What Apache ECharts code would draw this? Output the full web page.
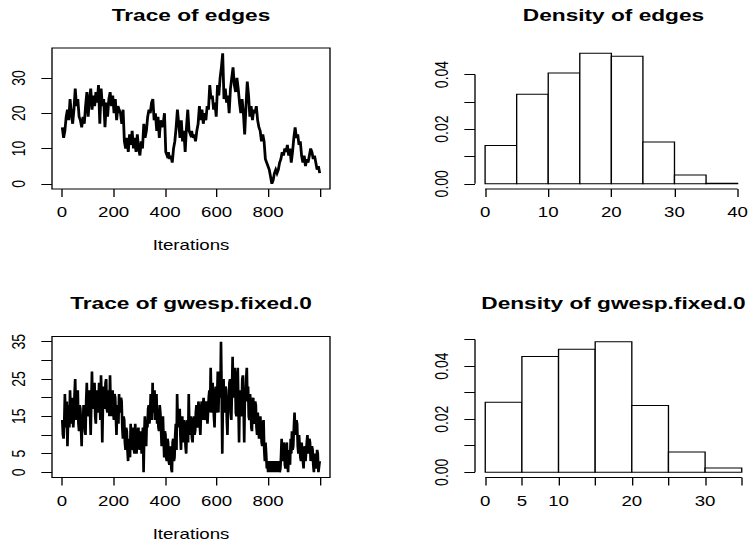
<!DOCTYPE html>
<html><head><meta charset="utf-8">
<script src="https://cdn.jsdelivr.net/npm/echarts@6/dist/echarts.min.js"></script>
<style>
html,body{margin:0;padding:0;background:#fff;overflow:hidden;}
#wrap{width:752px;height:542px;overflow:hidden;}
#chart{width:564px;height:542px;transform:scaleX(1.333333);transform-origin:0 0;}
</style></head><body><div id="wrap"><div id="chart"></div></div>
<script>
// ---- data ----
const edgesTrace = [16,13,15,19,21,18,24,20,17,21,
 27,22,24,19,18,16,19,17,22,26,
 19,24,27,21,25,22,26,23,28,17,
 27,22,24,16,23,19,24,26,22,25,
 20,24,18,22,21,20,17,21,12,10,
 13,9,14,11,15,10,13,9,14,10,
 8,12,10,17,13,15,19,21,20,23,
 24,18,20,15,19,13,18,16,17,20,
 9,8,9,7,8,6,10,12,16,21,
 17,13,18,12,15,9,16,21,15,14,
 15,13,14,12,15,17,22,18,21,17,
 20,18,22,21,28,24,25,21,23,19,
 28,25,30,33,37,24,27,23,25,20,
 27,30,33,28,26,30,27,23,20,24,
 20,14,22,29,25,19,22,18,21,20,
 22,18,16,15,12,14,12,7,6,5,
 4,2,0,1,3,4,3,4,6,7,
 9,8,10,9,11,8,10,6,9,13,
 16,13,14,11,12,8,6,8,5,7,
 6,8,10,9,7,8,6,4,5,3];
const gwespTrace = [
 14,10,9,13,21,15,12,19,7,14,18,12,22,16,13,20,20,12,15,21,
 25,17,14,20,22,13,11,18,17,12,7,15,13,18,18,11,10,19,24,16,
 15,21,22,16,10,19,27,18,17,23,24,15,13,20,22,17,16,24,20,14,
 26,19,8,18,23,17,18,24,25,17,16,22,21,15,26,18,15,21,22,16,
 14,21,20,15,10,17,18,13,21,16,16,20,19,12,9,15,14,8,6,12,
 11,6,3,9,9,4,13,7,6,11,12,6,5,13,10,5,8,11,12,7,
 6,11,9,5,5,12,0,10,15,8,7,14,12,17,18,13,15,21,20,14,
 24,16,17,22,14,19,21,13,17,12,11,18,16,12,7,14,15,9,4,11,
 10,4,3,9,8,3,2,7,6,1,0,8,9,3,4,10,13,6,21,14,
 12,16,17,10,6,13,15,8,9,14,13,7,5,11,14,8,21,12,10,15,
 13,9,8,14,15,10,11,16,18,12,13,19,17,13,10,16,19,14,14,20,
 20,14,15,19,18,13,13,20,22,16,28,19,16,24,20,15,12,21,23,16,
 20,27,16,24,27,20,35,22,5,20,25,17,16,23,22,14,10,19,18,24,
 25,16,14,22,31,21,20,28,26,16,15,24,28,18,8,20,22,15,17,25,
 26,18,8,20,19,25,28,19,23,15,14,21,19,12,11,18,20,13,14,19,
 18,12,10,16,16,9,12,15,15,8,7,13,14,6,3,8,5,1,3,0,
 0,3,3,0,0,3,3,0,0,3,3,0,3,0,0,3,3,0,1,4,
 9,4,3,8,7,2,1,6,8,3,0,6,6,2,9,5,11,6,7,12,
 16,11,10,14,13,7,5,10,10,4,3,8,8,3,1,6,7,3,3,8,
 10,6,5,9,8,3,3,7,6,2,0,5,5,1,2,6,5,0,0,3];
const iterFirst = 1, iterLast = 1000;

const edgesBreaks = [0,5,10,15,20,25,30,35,40];
const edgesDensity = [0.0140,0.0328,0.0406,0.0478,0.0467,0.0153,0.0032,0.0002];
const gwespBreaks = [0,5,10,15,20,25,30,35];
const gwespDensity = [0.0264,0.0436,0.0464,0.0492,0.0252,0.0076,0.0016];

const iterTicks = [0,200,400,600,800,1000];
const iterLabels = [0,200,400,600,800];
const edgesTraceTicks = [0,10,20,30];
const edgesTraceLabels = [0,10,20,30];
const gwespTraceTicks = [0,5,10,15,20,25,30,35];
const gwespTraceLabels = [0,5,15,25,35];
const edgesHistXTicks = [0,10,20,30,40];
const edgesHistXLabels = [0,10,20,30,40];
const edgesHistYTicks = [0,0.01,0.02,0.03,0.04];
const gwespHistXTicks = [0,5,10,15,20,25,30,35];
const gwespHistXLabels = [0,5,10,20,30];
const gwespHistYTicks = [0,0.01,0.02,0.03,0.04,0.05];
const histYLabels = [0,0.02,0.04];

const titles = ['Trace of edges','Density of edges','Trace of gwesp.fixed.0','Density of gwesp.fixed.0'];
const xName = 'Iterations';

// ---- helpers ----
const FONT = 'Liberation Sans';
function ext(lo, hi){ const d=(hi-lo)*0.04; return [lo-d, hi+d]; }
function traceData(arr){ return arr.map((v,k)=>[iterFirst + k*(iterLast-iterFirst)/(arr.length-1), v]); }
function histData(breaks, dens){ return dens.map((d,i)=>[breaks[i], breaks[i+1], d]); }
function maxOf(a){ return Math.max.apply(null,a); }
function minOf(a){ return Math.min.apply(null,a); }

const TL = 8;
function xAx(grid, range, ticks, labels, name){
  return {type:'value', gridIndex:grid, min:range[0], max:range[1],
    axisLine:{show:false, onZero:false}, splitLine:{show:false},
    axisTick:{show:true, length:TL, customValues:ticks, lineStyle:{color:'#000',width:1}},
    axisLabel:{customValues:labels, margin:16, fontSize:14, color:'#000', fontFamily:FONT},
    name:name||'', nameLocation:'middle', nameGap:49,
    nameTextStyle:{fontSize:14, color:'#000', fontFamily:FONT}};
}
function yAx(grid, range, ticks, labels, fmt){
  return {type:'value', gridIndex:grid, min:range[0], max:range[1],
    axisLine:{show:false, onZero:false}, splitLine:{show:false},
    axisTick:{show:true, length:TL, customValues:ticks, lineStyle:{color:'#000',width:1}},
    axisLabel:{customValues:labels, rotate:90, margin:18, fontSize:14, color:'#000', fontFamily:FONT,
      formatter: fmt || (v=>String(v))}};
}

const histRender = function(params, api){
  const p0 = api.coord([api.value(0), 0]);
  const p1 = api.coord([api.value(1), api.value(2)]);
  return {type:'rect', shape:{x:p0[0], y:p1[1], width:p1[0]-p0[0], height:p0[1]-p1[1]},
    style:{fill:'#fff', stroke:'#000', lineWidth:1}};
};
function axisLines(xr, yr, xt, yt){
  return function(params, api){
    const a = api.coord([xr[0], yt[0]]), b = api.coord([xr[0], yt[yt.length-1]]);
    const c = api.coord([xt[0], yr[0]]), d = api.coord([xt[xt.length-1], yr[0]]);
    return {type:'group', children:[
      {type:'line', shape:{x1:a[0],y1:a[1],x2:b[0],y2:b[1]}, style:{stroke:'#000',lineWidth:1}},
      {type:'line', shape:{x1:c[0],y1:c[1],x2:d[0],y2:d[1]}, style:{stroke:'#000',lineWidth:1}}
    ]};
  };
}

const xTraceR = ext(iterFirst, iterLast);
const yEdgesR = ext(minOf(edgesTrace), maxOf(edgesTrace));
const yGwespR = ext(minOf(gwespTrace), maxOf(gwespTrace));
const xEdgesHR = ext(edgesBreaks[0], edgesBreaks[edgesBreaks.length-1]);
const yEdgesHR = ext(0, maxOf(edgesDensity));
const xGwespHR = ext(gwespBreaks[0], gwespBreaks[gwespBreaks.length-1]);
const yGwespHR = ext(0, maxOf(gwespDensity));
const fmt2 = v => v.toFixed(2);

const boxGrid = {show:true, borderColor:'#000', borderWidth:1, backgroundColor:'transparent'};
const option = {
  animation:false,
  backgroundColor:'#fff',
  textStyle:{fontFamily:FONT},
  title: titles.map((t,i)=>({text:t, textAlign:'center', padding:0,
    left: i%2===0 ? 143.25 : 460.1, top: i<2 ? 7 : 294.5,
    textStyle:{fontSize:17, fontWeight:'bold', color:'#000', fontFamily:FONT}})),
  grid:[
    Object.assign({left:39, top:48, width:208.5, height:141}, boxGrid),
    {left:356.25, top:48, width:207.75, height:141, show:false},
    Object.assign({left:39, top:336.5, width:208.5, height:141}, boxGrid),
    {left:356.25, top:336.5, width:207.75, height:141, show:false}
  ],
  xAxis:[
    xAx(0, xTraceR, iterTicks, iterLabels, xName),
    xAx(1, xEdgesHR, edgesHistXTicks, edgesHistXLabels),
    xAx(2, xTraceR, iterTicks, iterLabels, xName),
    xAx(3, xGwespHR, gwespHistXTicks, gwespHistXLabels)
  ],
  yAxis:[
    yAx(0, yEdgesR, edgesTraceTicks, edgesTraceLabels),
    yAx(1, yEdgesHR, edgesHistYTicks, histYLabels, fmt2),
    yAx(2, yGwespR, gwespTraceTicks, gwespTraceLabels),
    yAx(3, yGwespHR, gwespHistYTicks, histYLabels, fmt2)
  ],
  series:[
    {type:'line', xAxisIndex:0, yAxisIndex:0, data:traceData(edgesTrace), showSymbol:false, symbol:'none',
      lineStyle:{color:'#000', width:2.1, join:'miter'}, silent:true},
    {type:'custom', xAxisIndex:1, yAxisIndex:1, data:histData(edgesBreaks, edgesDensity), renderItem:histRender,
      encode:{x:[0,1], y:2}, clip:false, silent:true},
    {type:'custom', xAxisIndex:1, yAxisIndex:1, data:[0], clip:false, silent:true,
      renderItem:axisLines(xEdgesHR, yEdgesHR, edgesHistXTicks, edgesHistYTicks)},
    {type:'line', xAxisIndex:2, yAxisIndex:2, data:traceData(gwespTrace), showSymbol:false, symbol:'none',
      lineStyle:{color:'#000', width:2.0}, silent:true},
    {type:'custom', xAxisIndex:3, yAxisIndex:3, data:histData(gwespBreaks, gwespDensity), renderItem:histRender,
      encode:{x:[0,1], y:2}, clip:false, silent:true},
    {type:'custom', xAxisIndex:3, yAxisIndex:3, data:[0], clip:false, silent:true,
      renderItem:axisLines(xGwespHR, yGwespHR, gwespHistXTicks, gwespHistYTicks)}
  ]
};
const chart = echarts.init(document.getElementById('chart'), null, {renderer:'svg', width:564, height:542});
chart.setOption(option);
</script></body></html>
